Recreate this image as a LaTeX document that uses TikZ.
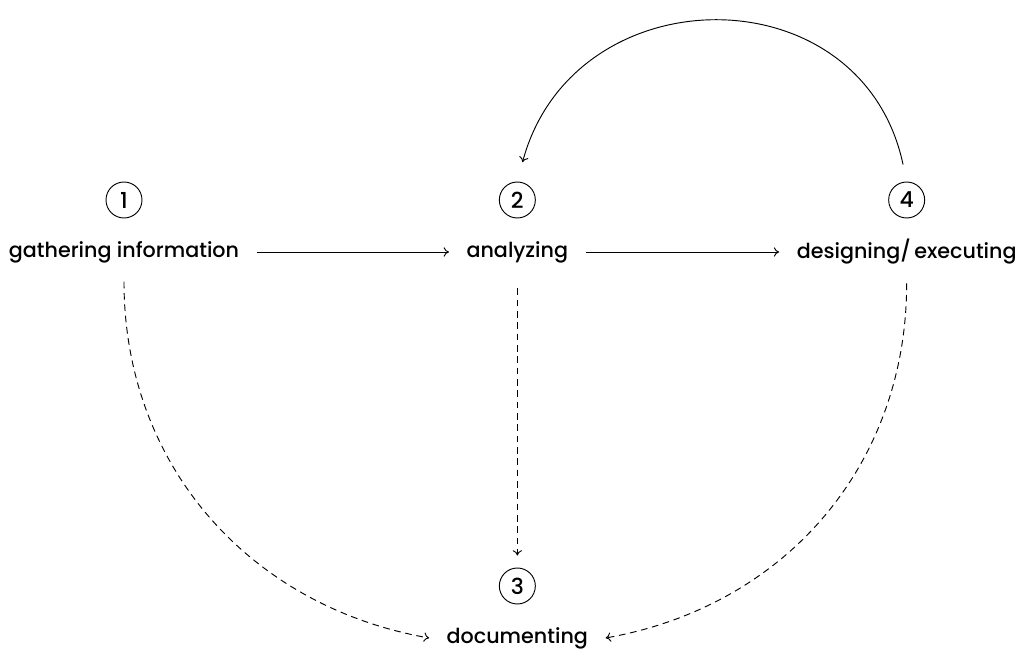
\documentclass[tikz,border=0pt]{standalone}
\usepackage{fontspec}
\setmainfont{Poppins}[UprightFont=* Medium]
\usetikzlibrary{positioning, arrows.meta}

\tikzset{
  steplabel/.style={inner xsep=13pt, inner ysep=14pt, font=\fontsize{15.5}{18}\selectfont},
  num/.style={draw, circle, line width=0.7pt, minimum size=27pt, inner sep=0pt, font=\fontsize{16.5}{18}\selectfont},
  flow/.style={-{To[length=4pt, width=7pt]}, line width=0.7pt},
  aside/.style={flow, dash pattern=on 5pt off 3.5pt}
}

\begin{document}
\begin{tikzpicture}[node distance=295pt, x=0.75pt, y=-0.75pt]
  \useasboundingbox (0,0) rectangle (1026,652);
  \node[steplabel] (gather) at (124,252) {gathering information};
  \node[steplabel] (analyze) [right of=gather] {analyzing};
  \node[steplabel] (design) [right of=analyze, node distance=292pt] {designing/\,executing};
  \node[steplabel] (docu) [below of=analyze, node distance=289.5pt] {documenting};
  \node[num] (n1) [above of=gather, node distance=39pt] {1};
  \node[num] (n2) [above of=analyze, node distance=39pt] {2};
  \node[num] (n4) [above of=design, node distance=39pt] {4};
  \node[num] (n3) [above of=docu, node distance=39pt] {3};
  \draw[flow] (gather) -- (analyze);
  \draw[flow] (analyze) -- (design);
  \draw[flow, shorten <=13pt, shorten >=15pt] (n4.north) to[out=102, in=75, looseness=1.42] (n2.north);
  \draw[aside, shorten <=5pt, shorten >=9pt] (analyze.south) -- (n3.north);
  \draw[aside] (gather.south) to[out=-90, in=170] (docu.west);
  \draw[aside] (design.south) to[out=-90, in=10] (docu.east);
\end{tikzpicture}
\end{document}
